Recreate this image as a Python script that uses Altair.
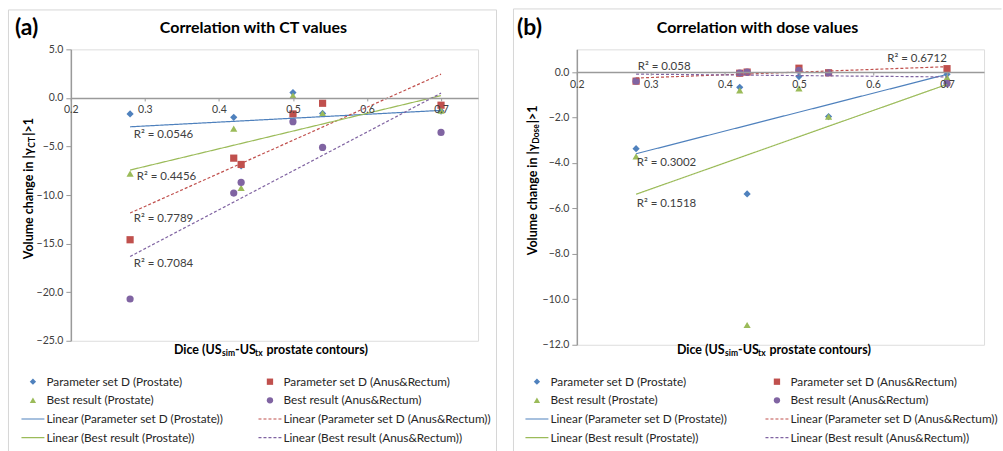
import altair as alt
import pandas as pd

# ---------------- data ----------------
dice = [0.28, 0.42, 0.43, 0.50, 0.54, 0.70]
series = ["Parameter set D (Prostate)", "Parameter set D (Anus&Rectum)",
          "Best result (Prostate)", "Best result (Anus&Rectum)"]

ct_param_prostate = [-1.65, -2.0, -7.0, 0.55, -1.6, -1.35]
ct_param_anus = [-14.6, -6.2, -6.85, -1.65, -0.55, -0.75]
ct_best_prostate = [-7.8, -3.15, -9.25, 0.25, -1.6, -1.3]
ct_best_anus = [-20.7, -9.8, -8.7, -2.45, -5.1, -3.55]

dose_param_prostate = [-3.37, -0.67, -5.36, -0.2, -1.96, -0.1]
dose_param_anus = [-0.40, -0.05, 0.0, 0.17, -0.03, 0.15]
dose_best_prostate = [-3.71, -0.81, -11.13, -0.72, -1.96, -0.23]
dose_best_anus = [-0.40, -0.04, 0.0, 0.08, -0.03, -0.5]

x_ticks = [0.2, 0.3, 0.4, 0.5, 0.6, 0.7]
ct_ticks = [5, 0, -5, -10, -15, -20, -25]
dose_ticks = [0, -2, -4, -6, -8, -10, -12]

# R² labels in series order, with their anchor in data units
ct_r2 = ["R² = 0.0546", "R² = 0.7789", "R² = 0.4456", "R² = 0.7084"]
ct_r2_x = [0.2849, 0.2849, 0.289, 0.2849]
ct_r2_y = [-3.80, -12.43, -8.15, -17.06]
dose_r2 = ["R² = 0.3002", "R² = 0.6712", "R² = 0.1518", "R² = 0.058"]
dose_r2_x = [0.2809, 0.6193, 0.2809, 0.2822]
dose_r2_y = [-4.02, 0.575, -5.80, 0.225]

# ---------------- styles ----------------
FONT = "Lato"
colors = ["#4F81BD", "#C0504D", "#9BBB59", "#8064A2"]
shapes = ["diamond", "square", "triangle-up", "circle"]
dashes = [[1, 0], [3, 2], [1, 0], [3, 2]]
AX = "#9a9a9a"
FRAME = "#d6d6d6"
W = 408

color_enc = alt.Color("series:N", scale=alt.Scale(domain=series, range=colors), legend=None)
shape_enc = alt.Shape("series:N", scale=alt.Scale(domain=series, range=shapes), legend=None)
dash_enc = alt.StrokeDash("series:N", scale=alt.Scale(domain=series, range=dashes), legend=None)


def txt(s, x, y, size, bold=False, align="left", angle=0, color="#000000"):
    kw = dict(text=s, fontSize=size, font=FONT, fontWeight="bold" if bold else "normal",
              align=align, baseline="middle", color=color)
    if angle:
        kw["angle"] = angle
    return alt.Chart(alt.Data(values=[{}])).mark_text(**kw).encode(
        x=alt.value(x), y=alt.value(y))


def rule(x1, y1, x2, y2):
    return alt.Chart(alt.Data(values=[{}])).mark_rule(color=FRAME, strokeWidth=1).encode(
        x=alt.value(x1), y=alt.value(y1), x2=alt.value(x2), y2=alt.value(y2))


def panel(vals, ydom, yticks, H, r2_text, r2_x, r2_y, tag, title, ysub, sub_w,
          lay):
    rows = []
    for s, v in zip(series, vals):
        for d, y in zip(dice, v):
            rows.append({"dice": d, "value": y, "series": s})
    df = pd.DataFrame(rows)

    xs = alt.Scale(domain=[0.2, 0.75], nice=False, zero=False)
    ys = alt.Scale(domain=ydom, nice=False, zero=False)
    y0 = H * ydom[1] / (ydom[1] - ydom[0])
    xaxis = alt.Axis(values=x_ticks, format=".1f", offset=-(H - y0), title=None, grid=False,
                     domainColor=AX, domainWidth=1.5, tickColor=AX, tickSize=3,
                     labelFont=FONT, labelFontSize=10.5, labelColor="#404040",
                     labelPadding=4, labelFlush=False, labelOverlap=False, zindex=1)
    yaxis = alt.Axis(values=yticks, format=".1f", title=None, grid=False,
                     domainColor=AX, domainWidth=1.5, tickColor=AX, tickSize=5,
                     labelFont=FONT, labelFontSize=10.5, labelColor="#404040",
                     labelPadding=3, labelFlush=False, labelOverlap=False)
    X = alt.X("dice:Q", scale=xs, axis=xaxis)
    Y = alt.Y("value:Q", scale=ys, axis=yaxis)

    pts = alt.Chart(df).mark_point(filled=True, opacity=1, size=52).encode(
        x=X, y=Y, color=color_enc, shape=shape_enc)
    trend = alt.Chart(df).transform_regression(
        "dice", "value", groupby=["series"]).mark_line(strokeWidth=1.2).encode(
        x=X, y=Y, color=color_enc, strokeDash=dash_enc)

    r2df = pd.DataFrame({"t": r2_text, "x": r2_x, "y": r2_y})
    r2 = alt.Chart(r2df).mark_text(align="left", baseline="middle", font=FONT,
                                   fontSize=11.5, color="#404040").encode(
        x=alt.X("x:Q", scale=xs, axis=xaxis), y=alt.Y("y:Q", scale=ys, axis=yaxis), text="t:N")

    # legend built from the series list
    leg = pd.DataFrame({
        "label": series + ["Linear (" + s + ")" for s in series],
        "series": series + series,
        "row": [i // 2 for i in range(4)] + [2 + i // 2 for i in range(4)],
        "col": [i % 2 for i in range(4)] * 2,
        "kind": ["marker"] * 4 + ["line"] * 4,
    })
    lb = alt.Chart(leg).transform_calculate(
        cx=f"datum.col == 0 ? {lay['cx0']} : {lay['cx1']}",
        cy=f"{lay['ly0']} + datum.row * {lay['dy']}",
    ).transform_calculate(tx="datum.cx + 13.5", lx1="datum.cx - 11.5", lx2="datum.cx + 11.5")
    leg_pts = lb.transform_filter("datum.kind == 'marker'").mark_point(
        filled=True, opacity=1, size=40).encode(
        x=alt.X("cx:Q", scale=None, axis=None), y=alt.Y("cy:Q", scale=None, axis=None),
        color=color_enc, shape=shape_enc)
    leg_lines = lb.transform_filter("datum.kind == 'line'").mark_rule(strokeWidth=1.2).encode(
        x=alt.X("lx1:Q", scale=None, axis=None), x2="lx2:Q",
        y=alt.Y("cy:Q", scale=None, axis=None), color=color_enc, strokeDash=dash_enc)
    leg_txt = lb.mark_text(align="left", baseline="middle", font=FONT, fontSize=11.8,
                           color="#262626").encode(
        x=alt.X("tx:Q", scale=None, axis=None), y=alt.Y("cy:Q", scale=None, axis=None),
        text="label:N")

    # titles
    t = lay
    layers = [
        txt(tag, t["tag_x"], -21, 23, bold=True),
        txt(title, t["title_x"], -21, 16, bold=True, align="center"),
        # y title with subscript
        txt("Volume change in |γ", t["yt_x"], t["yt_a"], 12.5, bold=True, align="right", angle=270),
        txt(ysub, t["yt_x"] + 3.5, t["yt_a"] - 0.5, 8.5, bold=True, align="left", angle=270),
        txt("|>1", t["yt_x"], t["yt_a"] - sub_w, 12.5, bold=True, align="left", angle=270),
        # x title with subscripts
        txt("Dice (US", t["xt_a"], t["xt_y"], 12.5, bold=True, align="right"),
        txt("sim", t["xt_a"] + 0.5, t["xt_y"] + 3.5, 8.5, bold=True),
        txt("-US", t["xt_a"] + 13.5, t["xt_y"], 12.5, bold=True),
        txt("tx", t["xt_a"] + 33.5, t["xt_y"] + 3.5, 8.5, bold=True),
        txt("prostate contours)", t["xt_a"] + 45, t["xt_y"], 12.5, bold=True),
    ]
    layers += [rule(*r) for r in lay["frame"]]
    if lay.get("canvas"):
        cx1, cy1, cx2, cy2 = lay["canvas"]
        layers.append(alt.Chart(alt.Data(values=[{}])).mark_rect(opacity=0).encode(
            x=alt.value(cx1), x2=alt.value(cx2), y=alt.value(cy1), y2=alt.value(cy2)))

    return alt.layer(pts, trend, r2, leg_pts, leg_lines, leg_txt, *layers).properties(
        width=W, height=H)


lay_a = dict(cx0=-38, cx1=199.5, ly0=333, dy=18.7, tag_x=-56, title_x=183,
             yt_x=-42, yt_a=99, xt_a=151, xt_y=301,
             frame=[(-62.5, -39.5, 426.5, -39.5), (-62.5, -39.5, -62.5, 402.5),
                    (426.5, -39.5, 426.5, 402.5)],
             canvas=(-70, -48, 933, 403))
lay_b = dict(cx0=-40, cx1=200.5, ly0=333, dy=18.7, tag_x=-60, title_x=181,
             yt_x=-44, yt_a=95, xt_a=148, xt_y=301,
             frame=[(-63.5, -40.5, 425.5, -40.5), (-63.5, -40.5, -63.5, 402.5)])

pa = panel([ct_param_prostate, ct_param_anus, ct_best_prostate, ct_best_anus],
           [-25, 5], ct_ticks, 292, ct_r2, ct_r2_x, ct_r2_y,
           "(a)", "Correlation with CT values", "CT", 12.5, lay_a)
pb = panel([dose_param_prostate, dose_param_anus, dose_best_prostate, dose_best_anus],
           [-12, 1], dose_ticks, 296, dose_r2, dose_r2_x, dose_r2_y,
           "(b)", "Correlation with dose values", "Dose", 21, lay_b)

chart = alt.hconcat(pa, pb, spacing=99).properties(
    bounds="flush", padding=0, autosize=alt.AutoSizeParams(type="pad")
).configure_view(stroke=None).configure(background="white", font=FONT)

chart.save("out.html", embed_options={"renderer": "svg", "actions": False})
